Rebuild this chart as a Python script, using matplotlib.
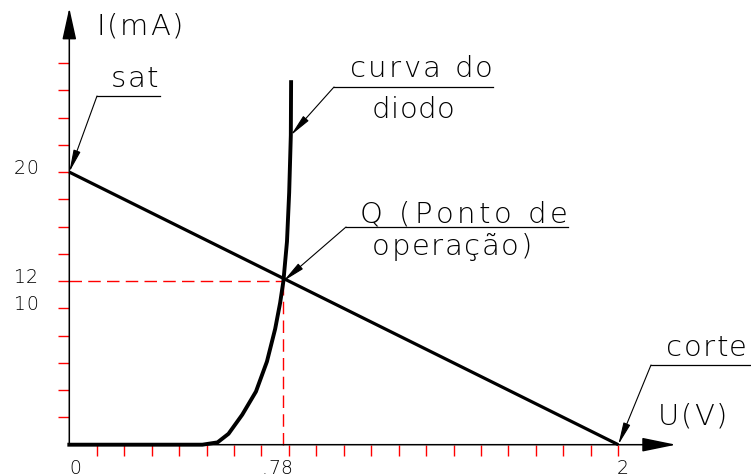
import matplotlib.pyplot as plt
from matplotlib.font_manager import FontProperties, findfont
from matplotlib.ft2font import FT2Font

# dados (curva do diodo e reta de carga)
diode_v = [0.0, 0.485, 0.54, 0.58, 0.63, 0.68, 0.72, 0.75, 0.768, 0.78, 0.793, 0.801, 0.807, 0.808]
diode_i = [0.0, 0.0, 0.17, 0.8, 2.2, 3.9, 6.1, 8.5, 10.4, 12.0, 14.9, 18.5, 22.7, 26.6]

i_sat = 20        # mA
v_corte = 2       # V
q_v, q_i = 0.78, 12

x_ticks = [round(0.1 * k, 1) for k in range(1, 21)]
y_ticks = list(range(2, 30, 2))

W, H = 751, 477
X0, Y0 = 69.3, 445.7        # origem em pixels
SX, SY = 274.5, 13.63       # pixels por V / por mA


def pix(x, y):
    # posicao em pixels da figura -> coordenadas dos dados
    return (x - X0) / SX, (Y0 - y) / SY


plt.rcParams['font.family'] = ['DejaVu Sans']
plt.rcParams['font.weight'] = 'light'
prop = FontProperties(family='DejaVu Sans', weight='light')
ft = FT2Font(findfont(prop))


def advances(s, size):
    ft.set_size(size, 100)
    return [ft.load_char(ord(c)).linearHoriAdvance / 65536 for c in s]


def cad_text(s, left, right, base, size):
    # texto com espacamento largo (estilo CAD) entre left e right (pixels)
    adv = advances(s, size)
    track = (right - left - sum(adv)) / max(len(s) - 1, 1)
    x = left
    for c, a in zip(s, adv):
        if c != ' ':
            ax.text(*pix(x, base), c, fontsize=size, va='baseline', ha='left')
        x += a + track


fig = plt.figure(figsize=(W / 100, H / 100), dpi=100)
ax = fig.add_axes([0, 0, 1, 1])
ax.set_xlim(-X0 / SX, (W - X0) / SX)
ax.set_ylim(-(H - Y0) / SY, Y0 / SY)
ax.axis('off')

big = 21
small = 13.5

# eixos com setas
ytop = pix(0, 9)[1]
xend = pix(676, 0)[0]
ax.annotate('', xy=(0, ytop), xytext=(0, 0),
            arrowprops=dict(arrowstyle='-|>,head_length=1.95,head_width=0.43',
                            mutation_scale=10, lw=1.1, color='black',
                            shrinkA=0, shrinkB=0))
ax.annotate('', xy=(xend, 0), xytext=(0, 0),
            arrowprops=dict(arrowstyle='-|>,head_length=2.1,head_width=0.43',
                            mutation_scale=10, lw=1.1, color='black',
                            shrinkA=0, shrinkB=0))

# marcas vermelhas
ax.vlines(x_ticks, -11 / SY, 0, colors='red', lw=1.0)
ax.hlines(y_ticks, -11 / SX, 0, colors='red', lw=1.0)

# valores nos eixos
cad_text('0', 69, 80, 474, small)
cad_text('.78', 262, 292, 474, small)
cad_text('2', 617, 629, 474, small)
cad_text('20', 14, 38, 174, small)
cad_text('12', 14, 38, 282.7, small)
cad_text('10', 14, 38, 310, small)

# linhas tracejadas do ponto Q
ax.plot([0, q_v], [q_i, q_i], color='red', lw=1.0, dashes=(9, 4.5))
ax.plot([q_v, q_v], [0, q_i], color='red', lw=1.0, dashes=(9, 4.5))

# reta de carga e curva do diodo
ax.plot([0, v_corte], [i_sat, 0], color='black', lw=2.3, solid_capstyle='butt')
ax.plot(diode_v, diode_i, color='black', lw=2.8, solid_joinstyle='round')

# rotulos dos eixos
cad_text('I(mA)', 97, 183, 35, big)
cad_text('U(V)', 658, 727, 425, big)

arrow = dict(arrowstyle='-|>,head_length=1.35,head_width=0.22',
             mutation_scale=10, lw=0.8, color='black', shrinkA=0, shrinkB=0)


def leader(tip, corner, right_x):
    ax.annotate('', xy=tip, xytext=pix(*corner), arrowprops=arrow)
    cx, cy = pix(*corner)
    rx = pix(right_x, 0)[0]
    ax.plot([cx, rx], [cy, cy], color='black', lw=0.9)


leader((0, i_sat), (97, 97), 160)
cad_text('sat', 111, 158, 87, big)

leader((diode_v[-2], diode_i[-2]), (334, 88), 493)
cad_text('curva do', 350, 493, 77, big)
cad_text('diodo', 372, 455, 118, big)

leader((q_v, q_i), (346, 228), 568)
cad_text('Q (Ponto de', 360, 568, 223, big)
cad_text('operação)', 372, 532, 255, big)

leader((v_corte, 0), (651, 366), 751)
cad_text('corte', 666, 747, 356, big)

plt.savefig('out.png', dpi=100)
